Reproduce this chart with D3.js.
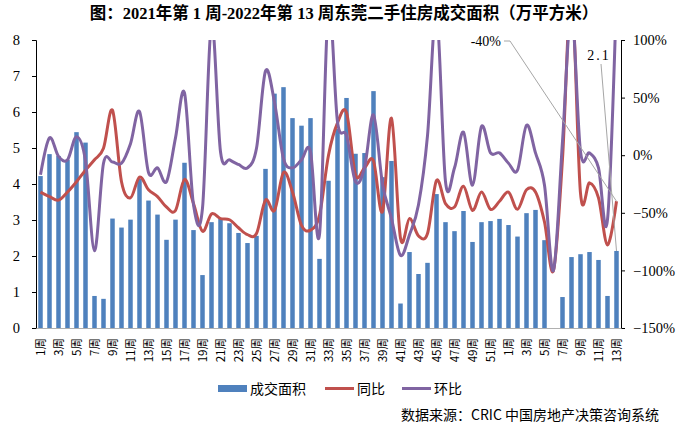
<!DOCTYPE html>
<html><head><meta charset="utf-8">
<script src="https://cdn.jsdelivr.net/npm/d3@7"></script>
<style>
body{margin:0;background:#fff;}
svg{display:block;}
</style></head>
<body>
<svg id="chart" width="678" height="434"></svg>
<script>
const categories = ["1周","2周","3周","4周","5周","6周","7周","8周","9周","10周","11周","12周","13周","14周","15周","16周","17周","18周","19周","20周","21周","22周","23周","24周","25周","26周","27周","28周","29周","30周","31周","32周","33周","34周","35周","36周","37周","38周","39周","40周","41周","42周","43周","44周","45周","46周","47周","48周","49周","50周","51周","52周","1周","2周","3周","4周","5周","6周","7周","8周","9周","10周","11周","12周","13周"];
const area = [4.22,4.83,4.78,4.67,5.44,5.15,0.89,0.81,3.04,2.79,3.01,4.14,3.54,3.15,2.45,3.01,4.59,2.72,1.47,2.94,3.04,2.91,2.64,2.36,2.56,4.42,6.51,6.69,5.83,5.62,5.83,1.92,4.09,5.53,6.39,4.84,4.86,6.58,4.19,4.64,0.68,2.11,1.50,1.81,3.72,2.94,2.69,3.25,2.39,2.94,2.97,3.03,2.86,2.54,3.19,3.28,2.44,0,0.86,1.97,2.05,2.11,1.89,0.89,2.14];
const yoy = [-32,-36,-39,-32,-23,-13,-4,6,39,-23,-37,-19,-30,-36,-45,-48,-21,-42,-66,-51,-55,-56,-63,-69,-68,-39,-48,-15,-32,-61,-65,-52,0,28,37,-17,-11,-5,-49,32,-72,-55,-70,-68,-22,-42,-45,-27,-48,-32,-47,-40,-32,-47,-30,-32,-58,-100,-3,143,-33,-24,-37,-78,-40];
const wow = [-17,15,-1,-4,16,-5,-83,-7,-6,-7,10,38,-15,-11,-23,15,54,-43,-46,115,3,-4,-8,-11,6,73,46,-3,-11,-4,3,-69,130,29,17,-23,-11,35,-25,-55,-87,-69,-43,17,125,-23,-11,20,-26,25,2,2,-7,-13,26,2,-26,-100,12,125,3,2,-11,-56,140];
const leftTicks = [0,1,2,3,4,5,6,7,8];
const rightTicks = [-150,-100,-50,0,50,100];
const title = "图：2021年第 1 周-2022年第 13 周东莞二手住房成交面积（万平方米）";
const legendNames = ["成交面积","同比","环比"];
const source = "数据来源：CRIC 中国房地产决策咨询系统";
const lastYoyLabel = "-40%";
const lastAreaLabel = "2.1";

const colors = {bar:"#4F81BD", yoy:"#C0504D", wow:"#8064A2"};
const svg = d3.select("#chart");
const L = 36, R = 621, T = 40, B = 328;
const idx = d3.range(categories.length);
const x = d3.scaleBand().domain(idx).range([L, R]).paddingInner(0.5).paddingOuter(0.25);
const cx = i => x(i) + x.bandwidth()/2;
const yL = d3.scaleLinear().domain([0,8]).range([B,T]);
const yR = d3.scaleLinear().domain([-150,100]).range([B,T]);

const serif = "'Liberation Serif','Times New Roman',serif";
const cjk = "'Noto Sans CJK SC','Noto Sans',sans-serif";

// title
svg.append("text").attr("x", 344).attr("y", 19).attr("text-anchor","middle")
  .attr("font-family", "'Liberation Serif','Noto Sans CJK SC',serif").attr("font-weight","bold")
  .attr("font-size", 16.5).attr("fill","#000").text(title);

svg.append("defs").append("clipPath").attr("id","plotclip")
  .append("rect").attr("x", L).attr("y", T).attr("width", R-L).attr("height", B-T);

// bars
svg.append("g").selectAll("rect").data(area).join("rect")
  .attr("x", (d,i) => x(i)).attr("width", x.bandwidth())
  .attr("y", d => yL(d)).attr("height", d => B - yL(d))
  .attr("fill", colors.bar);

// lines
const lineGen = vals => d3.line().x((d,i)=>cx(i)).y(d=>yR(d)).curve(d3.curveCatmullRom.alpha(0))(vals);
const lg = svg.append("g").attr("clip-path","url(#plotclip)");
lg.append("path").attr("d", lineGen(yoy)).attr("fill","none").attr("stroke",colors.yoy).attr("stroke-width",3).attr("stroke-linejoin","round");
lg.append("path").attr("d", lineGen(wow)).attr("fill","none").attr("stroke",colors.wow).attr("stroke-width",3).attr("stroke-linejoin","round");

// axes
const axL = svg.append("g").attr("transform",`translate(${L},0)`)
  .call(d3.axisLeft(yL).tickValues(leftTicks).tickSize(4).tickPadding(12).tickFormat(d3.format("d")));
const axR = svg.append("g").attr("transform",`translate(${R},0)`)
  .call(d3.axisRight(yR).tickValues(rightTicks).tickSize(4).tickPadding(8).tickFormat(d => d + "%"));
[axL, axR].forEach(a => {
  a.select(".domain").attr("stroke","#000");
  a.selectAll(".tick line").attr("stroke","#000");
  a.selectAll("text").attr("font-family", serif).attr("font-size", 14.5).attr("fill","#000");
});
axR.selectAll("text").text(d => (d < 0 ? "\u2212" + Math.abs(d) : d) + "%");

const axB = svg.append("g").attr("transform",`translate(0,${B})`)
  .call(d3.axisBottom(x).tickSize(0).tickFormat(i => i % 2 === 0 ? categories[i] : ""));
axB.select(".domain").attr("stroke","#b0b0b0");
axB.selectAll("text").attr("font-family", cjk).attr("font-size", 11.5).attr("fill","#000")
  .attr("text-anchor","end").attr("transform","rotate(-90)").attr("x", -10).attr("y", 0).attr("dy","0.35em");

// data labels with leader lines
svg.append("polyline").attr("points", `504,41 510,41 ${cx(64)},${yR(yoy[64])}`)
  .attr("fill","none").attr("stroke","#a6a6a6").attr("stroke-width",1);
svg.append("text").attr("x", 501).attr("y", 46).attr("text-anchor","end")
  .attr("font-family", serif).attr("font-size", 14).attr("fill","#000").text(lastYoyLabel);
svg.append("line").attr("x1",601).attr("y1",64).attr("x2",cx(64)).attr("y2",yL(area[64]))
  .attr("stroke","#a6a6a6").attr("stroke-width",1);
svg.append("text").attr("x", 599).attr("y", 60).attr("text-anchor","middle")
  .attr("font-family", serif).attr("font-size", 14).attr("letter-spacing", 2).attr("fill","#000").text(lastAreaLabel);

// legend
const leg = svg.append("g").attr("font-family", cjk).attr("font-size", 14).attr("fill","#000");
leg.append("rect").attr("x",218).attr("y",385).attr("width",29).attr("height",7).attr("fill",colors.bar);
leg.append("text").attr("x",250).attr("y",393.5).text(legendNames[0]);
leg.append("line").attr("x1",325).attr("x2",354).attr("y1",388.5).attr("y2",388.5).attr("stroke",colors.yoy).attr("stroke-width",3);
leg.append("text").attr("x",357).attr("y",393.5).text(legendNames[1]);
leg.append("line").attr("x1",402).attr("x2",431).attr("y1",388.5).attr("y2",388.5).attr("stroke",colors.wow).attr("stroke-width",3);
leg.append("text").attr("x",434).attr("y",393.5).text(legendNames[2]);

svg.append("text").attr("x",401).attr("y",420).attr("font-family", cjk).attr("font-size", 14).attr("fill","#000").text(source);
</script>
</body></html>
